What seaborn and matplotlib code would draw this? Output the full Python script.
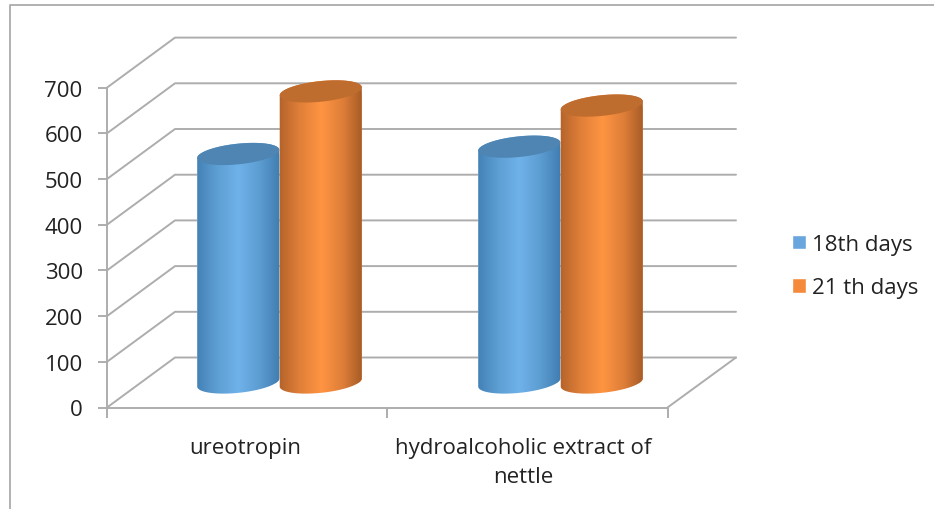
import numpy as np
import pandas as pd
import matplotlib
matplotlib.use('Agg')
import matplotlib.pyplot as plt
import seaborn as sns
from matplotlib.colors import LinearSegmentedColormap
from matplotlib.lines import Line2D
from matplotlib.patches import Polygon

# values
categories = ['ureotropin', 'hydroalcoholic extract of\nnettle']
days_18 = [500, 516]
days_21 = [637, 606]
series_names = ['18th days', '21 th days']
y_ticks = [0, 100, 200, 300, 400, 500, 600, 700]

colors = ['#69a6de', '#f58a3b']
top_colors = ['#4f85b2', '#bf6c2f']
gradients = [['#3f7db2', '#5d9ed2', '#6fb2ea', '#5b9bd0', '#3c79ad'],
             ['#b0602a', '#e07f38', '#ff9542', '#dd7d38', '#9c5523']]
line_color = '#adadad'

W, H = 934, 510
PX_Y = 45.7 / 100   # pixels for one value unit
PX_X = 281          # pixels for one category step
DEPTH_X, DEPTH_Y = 68, 25  # floor depth in x, half floor depth in y (pixels)
D = DEPTH_Y / PX_Y
FS = 16

sns.set_style('white')
plt.rcParams['font.family'] = ['Open Sans', 'DejaVu Sans']

df = pd.DataFrame({
    'cat': categories * 2,
    'days': [series_names[0]] * 2 + [series_names[1]] * 2,
    'val': days_18 + days_21,
})

fig = plt.figure(figsize=(W / 100, H / 100), dpi=100)
ax = fig.add_axes([107 / W, (H - 408.5) / H, (736 - 107) / W, (408.5 - 38.5) / H])

sns.barplot(data=df, x='cat', y='val', hue='days', palette=colors, width=165 / PX_X,
            gap=0, dodge=True, saturation=1, errorbar=None, zorder=3, ax=ax)

x_left = -(279.5 - 107) / PX_X
x_right = x_left + (736 - 107) / PX_X
x_front_right = x_left + (667.5 - 107) / PX_X
x_back = x_left + DEPTH_X / PX_X

# walls
for v in y_ticks:
    ax.plot([x_left, x_back, x_right], [v - D, v + D, v + D], color=line_color, lw=1.4,
            zorder=1, clip_on=False)
ax.plot([x_front_right, x_right], [-D, D], color=line_color, lw=1.4, zorder=1, clip_on=False)


def ellipse(cx, cy, a, t):
    # slightly tilted ellipse, sized in pixels, returned in data units
    b = 10.3
    th = np.radians(6)
    px = a * np.cos(t) * np.cos(th) - b * np.sin(t) * np.sin(th)
    py = a * np.cos(t) * np.sin(th) + b * np.sin(t) * np.cos(th)
    return np.column_stack([cx + px / PX_X, cy + py / PX_Y])


# cylinders on top of the bars
z = 3
for c, cont in enumerate(ax.containers):
    cmap = LinearSegmentedColormap.from_list('cyl', gradients[c])
    for bar in cont:
        x0, w, h = bar.get_x(), bar.get_width(), bar.get_height()
        cx = x0 + w / 2
        a = w * PX_X / 2
        low = ellipse(cx, 0, a, np.linspace(0, -np.pi, 50))
        up = ellipse(cx, h, a, np.linspace(np.pi, 0, 50))
        z += 1
        body = Polygon(np.vstack([low, up]), closed=True, fc='none', ec='none',
                       transform=ax.transData)
        ax.add_patch(body)
        bar.set_clip_path(body)
        im = ax.imshow(np.linspace(0, 1, 128).reshape(1, -1), cmap=cmap, aspect='auto',
                       extent=[x0 - 0.01, x0 + w + 0.01, -40, h + 40], zorder=z)
        im.set_clip_path(body)
        ax.add_patch(Polygon(ellipse(cx, h, a, np.linspace(0, 2 * np.pi, 80)), closed=True,
                             fc=top_colors[c], ec='none', zorder=z + 0.5))

ax.set_xlim(x_left, x_right)
ax.set_ylim(-D, (408.5 - 38.5) / PX_Y - D)

ax.set_yticks([v - D for v in y_ticks], [str(v) for v in y_ticks])
ax.set_xticks([x_left, x_left + 280 / PX_X, x_left + 560.5 / PX_X], ['', '', ''])
ax.set_xticks([x_left + 138 / PX_X, x_left + 416 / PX_X], categories, minor=True)
ax.tick_params(axis='y', length=6.5, width=1.4, color=line_color, pad=11, labelsize=FS,
               labelcolor='#222222', left=True)
ax.tick_params(axis='x', which='major', length=7, width=1.4, color=line_color, bottom=True)
ax.tick_params(axis='x', which='minor', length=0, pad=21, labelsize=FS, labelcolor='#222222')
for lab in ax.get_xticklabels(minor=True):
    lab.set_linespacing(1.5)
ax.set_xlabel('')
ax.set_ylabel('')

sns.despine(ax=ax, top=True, right=True)
ax.spines['left'].set_bounds(-D, 700 - D)
ax.spines['bottom'].set_bounds(x_left, x_front_right)
for s in ['left', 'bottom']:
    ax.spines[s].set_color(line_color)
    ax.spines[s].set_linewidth(1.4)

ax.legend(loc='center left', bbox_to_anchor=(771.5 / W, (H - 267) / H),
          bbox_transform=fig.transFigure, frameon=False, fontsize=FS, handlelength=0.63,
          handleheight=0.63, handletextpad=0.3, labelspacing=1.0, labelcolor='#222222')

# outer frame of the chart
fig.add_artist(Line2D([10 / W, 10 / W, 1], [0, (H - 6) / H, (H - 6) / H], color='#ababab', lw=1.3))

fig.savefig('out.png', dpi=100)
